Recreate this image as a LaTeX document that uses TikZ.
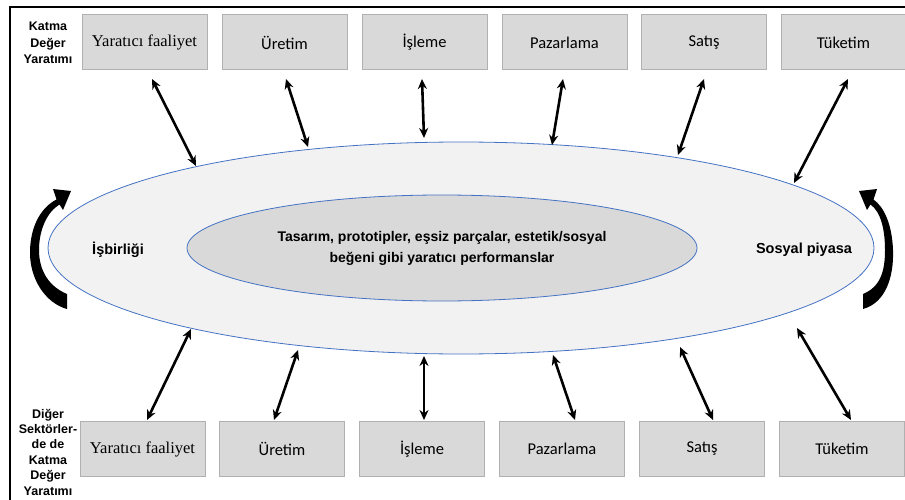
\documentclass[tikz,border=0pt]{standalone}
\usepackage{fontspec}
\setmainfont{Liberation Sans}
\newfontfamily\carl{Carlito}
\newfontfamily\tnr{Liberation Serif}
\usetikzlibrary{shapes.geometric,arrows.meta}
\definecolor{boxfill}{HTML}{D9D9D9}
\definecolor{boxline}{HTML}{B0B0B0}
\definecolor{outerfill}{HTML}{F2F2F2}
\definecolor{innerfill}{HTML}{D9D9D9}
\definecolor{elline}{HTML}{4472C4}
\tikzset{
  stagebox/.style={draw=boxline, line width=1pt, fill=boxfill, minimum width=125pt, minimum height=55pt, inner sep=0pt, font=\carl\fontsize{16.5}{18}\selectfont},
  dblarrow/.style={line width=2.6pt, {Stealth[length=10pt,width=9pt]}-{Stealth[length=10pt,width=9pt]}},
  sidelabel/.style={align=center, font=\bfseries\fontsize{12.5}{16.5}\selectfont},
  curvearrow/.style={fill=black, draw=none}
}
\begin{document}
\begin{tikzpicture}[x=1pt,y=-1pt]
\useasboundingbox (0,0) rectangle (905,500);
% frame
\draw[line width=2.5pt] (10,500) -- (10,7) -- (905,7);
% ellipses
\node[ellipse, draw=elline, line width=0.8pt, fill=outerfill, minimum width=826pt, minimum height=212pt, inner sep=0pt] (outer) at (461,248) {};
\node[ellipse, draw=elline, line width=0.8pt, fill=innerfill, minimum width=510pt, minimum height=106pt, inner sep=0pt, align=center, font=\bfseries\fontsize{14}{21}\selectfont] (inner) at (442,248) {Tasarım, prototipler, eşsiz parçalar, estetik/sosyal\\beğeni gibi yaratıcı performanslar};
\node[font=\bfseries\fontsize{14.5}{16}\selectfont] (isb) at (118,250) {İşbirliği};
\node[font=\bfseries\fontsize{14.5}{16}\selectfont] (sos) at (804,250) {Sosyal piyasa};
% side labels
\node[sidelabel] (lt) at (48,43) {Katma\\Değer\\Yaratımı};
\node[sidelabel, font=\bfseries\fontsize{12.5}{15.4}\selectfont] (lb) at (48,452) {Diğer\\Sektörler-\\de de\\Katma\\Değer\\Yaratımı};
% top boxes
\node[stagebox, font=\tnr\fontsize{16.5}{18}\selectfont] (T1) at (144.5,42.5) {Yaratıcı faaliyet};
\node[stagebox] (T2) at (284.5,42.5) {Üretim};
\node[stagebox] (T3) at (424.5,42.5) {İşleme};
\node[stagebox] (T4) at (564.5,42.5) {Pazarlama};
\node[stagebox] (T5) at (704,42.5) {Satış};
\node[stagebox] (T6) at (843.5,42.5) {Tüketim};
% bottom boxes
\node[stagebox, font=\tnr\fontsize{16.5}{18}\selectfont] (B1) at (142.5,449) {Yaratıcı faaliyet};
\node[stagebox] (B2) at (282,449) {Üretim};
\node[stagebox] (B3) at (422,449) {İşleme};
\node[stagebox] (B4) at (562,449) {Pazarlama};
\node[stagebox] (B5) at (702,449) {Satış};
\node[stagebox] (B6) at (842,449) {Tüketim};
% arrow end coordinates
\coordinate (t1a) at (152,79);  \coordinate (t1b) at (196,166);
\coordinate (t2a) at (286,79);  \coordinate (t2b) at (308,147);
\coordinate (t3a) at (422,79);  \coordinate (t3b) at (424,138);
\coordinate (t4a) at (563,79);  \coordinate (t4b) at (552,145);
\coordinate (t5a) at (704,79);  \coordinate (t5b) at (678,155);
\coordinate (t6a) at (848,79);  \coordinate (t6b) at (794,183);
\coordinate (b1a) at (147,420); \coordinate (b1b) at (191,329);
\coordinate (b2a) at (274,420); \coordinate (b2b) at (298,350);
\coordinate (b3a) at (424,420); \coordinate (b3b) at (424,356);
\coordinate (b4a) at (575,420); \coordinate (b4b) at (553,355);
\coordinate (b5a) at (713,420); \coordinate (b5b) at (680,347);
\coordinate (b6a) at (851,420); \coordinate (b6b) at (797,328);
\foreach \i in {1,...,6}{
  \draw[dblarrow] (t\i a) -- (t\i b);
  \draw[dblarrow] (b\i a) -- (b\i b);
}
% curved side arrows
\fill[curvearrow] (67,309) .. controls (45,303) and (29,278) .. (30,250)
  .. controls (31,224) and (42,207) .. (56.5,199.5)
  -- (53,189) -- (71,191) -- (63,210) -- (59.5,204.5)
  .. controls (47,212) and (39,230) .. (39,250)
  .. controls (39,272) and (50,287) .. (67,294) -- cycle;
\fill[curvearrow] (863,309) .. controls (885,303) and (894,278) .. (893,250)
  .. controls (892,224) and (884,207) .. (873.5,199.5)
  -- (877,189) -- (859,191) -- (867,210) -- (870.5,204.5)
  .. controls (881,212) and (885,230) .. (885,250)
  .. controls (885,272) and (880,287) .. (863,294) -- cycle;
\end{tikzpicture}
\end{document}
